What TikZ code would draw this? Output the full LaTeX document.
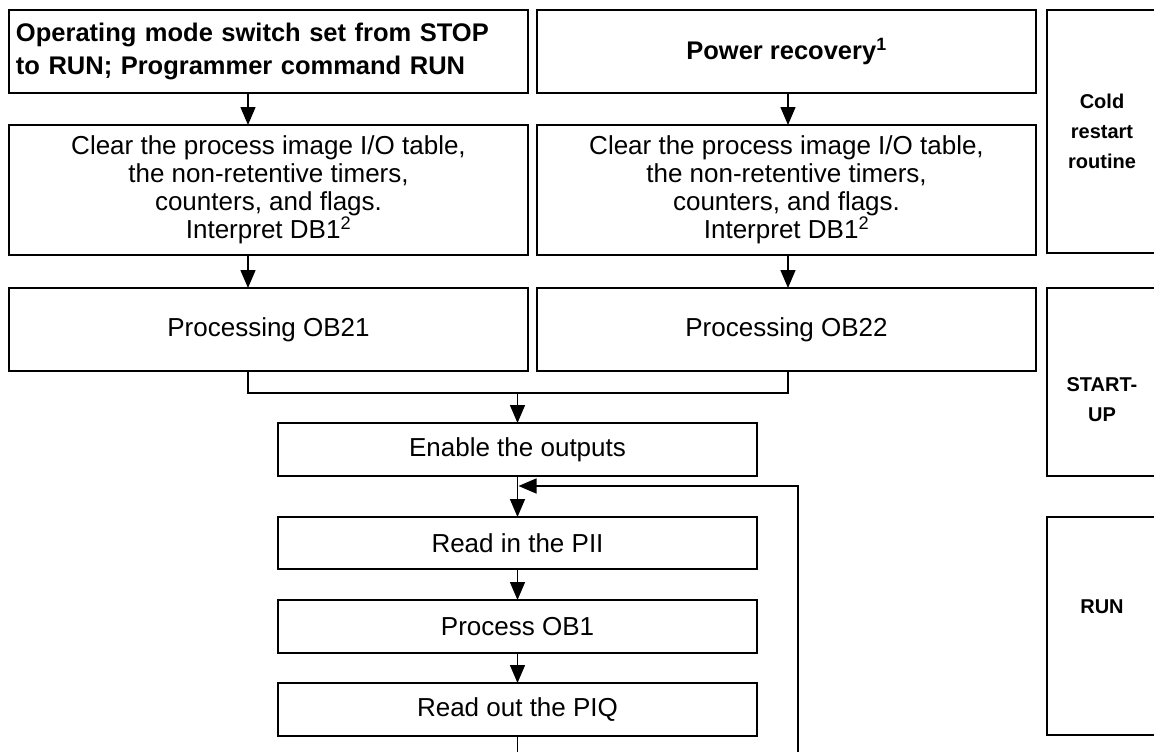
\documentclass[tikz,border=0pt]{standalone}
\usepackage{fontspec}
\setmainfont{Liberation Sans}
\usetikzlibrary{arrows.meta}
\begin{document}
\begin{tikzpicture}[x=1pt,y=-1pt,
  box/.style={draw,line width=1.4pt,inner sep=0pt,outer sep=0pt,align=center,
    font=\fontsize{26}{28}\selectfont},
  lbl/.style={inner sep=0pt,align=center,font=\fontsize{20}{30}\selectfont\bfseries},
  arr/.style={line width=1.4pt,-{Triangle[width=15pt,length=18pt]}},
  conn/.style={line width=1.4pt}]
\clip (0,0) rectangle (1154,752);
\fill[white] (0,0) rectangle (1154,752);
% top row
\node[box,minimum width=519pt,minimum height=83pt,text width=505pt,align=left,
  font=\fontsize{25.5}{33}\selectfont\bfseries] (A) at (268.5,51.5)
  {Operating mode switch set from STOP\\to RUN; Programmer command RUN};
\node[box,minimum width=499pt,minimum height=83pt,font=\fontsize{25.5}{33}\selectfont\bfseries]
  (B) at (786.5,51.5) {Power recovery\textsuperscript{1}};
\node[box,minimum width=110pt,minimum height=243pt] (cold) at (1102,131.5) {};
\node[lbl] (coldt) at (1102,131.5) {Cold\\restart\\routine};
% clear boxes
\node[box,minimum width=519pt,minimum height=130pt] (C1) at (268.5,190)
  {Clear the process image I/O table,\\the non-retentive timers,\\counters, and flags.\\Interpret DB1\textsuperscript{2}};
\node[box,minimum width=499pt,minimum height=130pt] (C2) at (786.5,190)
  {Clear the process image I/O table,\\the non-retentive timers,\\counters, and flags.\\Interpret DB1\textsuperscript{2}};
% processing
\node[box,minimum width=519pt,minimum height=83pt] (P1) at (268.5,329.5) {Processing OB21};
\node[box,minimum width=499pt,minimum height=83pt] (P2) at (786.5,329.5) {Processing OB22};
\node[box,minimum width=110pt,minimum height=188pt] (su) at (1102,382) {};
\node[lbl] (sut) at (1102,400) {START-\\UP};
% run chain
\node[box,minimum width=479pt,minimum height=53pt] (E) at (517.5,449.5) {Enable the outputs};
\node[box,minimum width=479pt,minimum height=52pt] (PII) at (517.5,543) {Read in the PII};
\node[box,minimum width=479pt,minimum height=53pt] (OB1) at (517.5,626.5) {Process OB1};
\node[box,minimum width=479pt,minimum height=53pt] (PIQ) at (517.5,709.5) {Read out the PIQ};
\node[box,minimum width=110pt,minimum height=218pt] (run) at (1102,626) {};
\node[lbl] (runt) at (1102,607) {RUN};
% connectors
\draw[arr] ([xshift=-20.5pt]A.south) -- ([xshift=-20.5pt]C1.north);
\draw[arr] ([xshift=1.5pt]B.south) -- ([xshift=1.5pt]C2.north);
\draw[arr] ([xshift=-20.5pt]C1.south) -- ([xshift=-20.5pt]P1.north);
\draw[arr] ([xshift=1.5pt]C2.south) -- ([xshift=1.5pt]P2.north);
\coordinate (m) at (517.5,393);
\draw[conn] ([xshift=-20.5pt]P1.south) |- (m) -| ([xshift=1.5pt]P2.south);
\draw[arr] (m) -- (E.north);
\draw[arr] (E.south) -- (PII.north);
\draw[arr] (PII.south) -- (OB1.north);
\draw[arr] (OB1.south) -- (PIQ.north);
\coordinate (lb) at (517.5,775);
\coordinate (lr) at (798,486);
\coordinate (j) at (518.5,486);
\draw[arr] (PIQ.south) -- (lb) -| (lr) -- (j);
\end{tikzpicture}
\end{document}
